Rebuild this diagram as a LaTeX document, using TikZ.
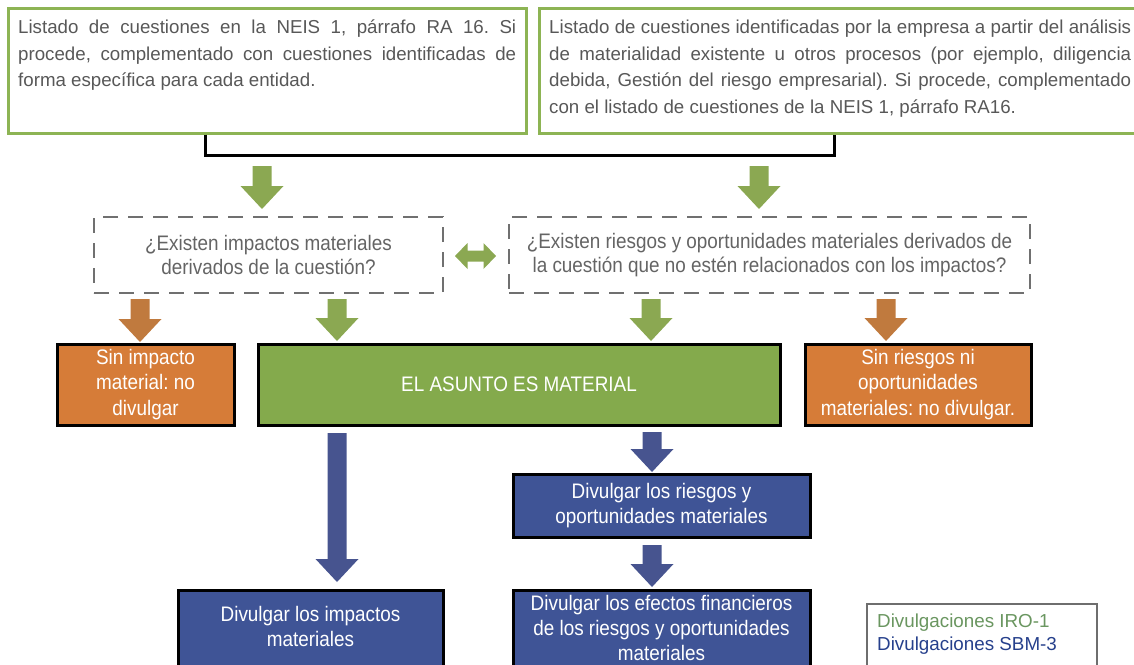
\documentclass[tikz,border=0pt]{standalone}
\usepackage{fontspec}
\setmainfont{Liberation Sans}
\newfontfamily\cnd[FakeStretch=0.9]{Liberation Sans}
\usetikzlibrary{calc}
\definecolor{gbord}{RGB}{141,180,84}
\definecolor{garrow}{RGB}{139,168,82}
\definecolor{gfill}{RGB}{132,170,76}
\definecolor{ofill}{RGB}{214,124,56}
\definecolor{oarrow}{RGB}{192,122,62}
\definecolor{bfill}{RGB}{63,84,150}
\definecolor{barrow}{RGB}{71,84,143}
\definecolor{dgray}{RGB}{112,112,112}
\definecolor{tgray}{RGB}{88,88,88}
\definecolor{dtext}{RGB}{100,100,100}
\definecolor{lgray}{RGB}{110,110,110}
\definecolor{lgreen}{RGB}{106,150,96}
\definecolor{lblue}{RGB}{38,64,140}
\frenchspacing
\newcommand\blockarrow[3]{%
  \fill[#1] let \p1=(#2), \p2=(#3) in
    (\x1-9.5pt,\y1) -- (\x1+9.5pt,\y1) -- (\x1+9.5pt,\y2+23pt) -- (\x1+21.5pt,\y2+23pt)
    -- (\x1,\y2) -- (\x1-21.5pt,\y2+23pt) -- (\x1-9.5pt,\y2+23pt) -- cycle;}
\begin{document}
\begin{tikzpicture}[x=1pt,y=-1pt,
  topbox/.style={draw=gbord, line width=3pt, inner sep=0pt, fill=white},
  toptext/.style={anchor=north west, inner sep=0pt, align=justify, text=tgray,
    font=\fontsize{18.7}{26.5}\selectfont},
  dbox/.style={draw=dgray, line width=2.5pt, dash pattern=on 15pt off 10pt,
    inner sep=0pt, align=center, text=dtext, font=\cnd\fontsize{21}{23.5}\selectfont},
  flowbox/.style={draw=black, line width=3pt, inner sep=0pt, align=center,
    text=white, font=\cnd\fontsize{21}{25.5}\selectfont},
  flowtext/.style={inner sep=0pt, align=center, text=white,
    font=\cnd\fontsize{21}{25}\selectfont},
  bracket/.style={draw=black, line width=3pt},
  legendbox/.style={draw=lgray, line width=2.5pt, fill=white}
]
\useasboundingbox (0,0) rectangle (1134,664);
\clip (0,0) rectangle (1134,664);

% top boxes
\node[topbox, minimum width=518pt, minimum height=125pt] (tl) at (267,70.5) {};
\node[topbox, minimum width=611pt, minimum height=125pt] (tr) at (844.5,70.5) {};
\node[toptext, text width=498pt] (tlt) at (18,20) {Listado de cuestiones en la NEIS 1, párrafo RA 16. Si\linebreak procede, complementado con cuestiones identificadas de\linebreak forma específica para cada entidad.};
\node[toptext, text width=582pt] (trt) at (549,20) {Listado de cuestiones identificadas por la empresa a partir del análisis\linebreak de materialidad existente u otros procesos (por ejemplo, diligencia\linebreak debida, Gestión del riesgo empresarial). Si procede, complementado\linebreak con el listado de cuestiones de la NEIS 1, párrafo RA16.};

% bracket
\coordinate (brl) at (205,155);
\coordinate (brr) at (834,155);
\draw[bracket] (tl.south -| brl) -- (brl) -- (brr) -- (tr.south -| brr);

% dashed question boxes
\node[dbox, minimum width=349pt, minimum height=76pt] (q1) at (268.5,255) {¿Existen impactos materiales\\derivados de la cuestión?};
\node[dbox, minimum width=521pt, minimum height=76pt] (q2) at (769.5,255) {¿Existen riesgos y oportunidades materiales derivados de\\la cuestión que no estén relacionados con los impactos?};

% flow boxes
\node[flowbox, fill=ofill, minimum width=177pt, minimum height=81pt] (o1) at (145.5,384.5) {Sin impacto\\material: no\\divulgar};
\node[flowbox, fill=gfill, minimum width=522pt, minimum height=81pt] (mat) at (519,384.5) {EL ASUNTO ES MATERIAL};
\node[flowbox, fill=ofill, minimum width=226pt, minimum height=81pt] (o2) at (918,384.5) {Sin riesgos ni\\oportunidades\\materiales: no divulgar.};
\node[flowbox, fill=bfill, minimum width=297pt, minimum height=63pt] (b1) at (661.5,505.5) {Divulgar los riesgos y\\oportunidades materiales};

% bottom boxes (cut by page edge)
\draw[flowbox, fill=bfill] (178,590) rectangle (443,700);
\draw[flowbox, fill=bfill] (513,590) rectangle (810,700);
\node[flowtext, minimum width=265pt, minimum height=72pt] (bi) at (310.5,626) {Divulgar los impactos\\materiales};
\node[flowtext, minimum width=297pt, minimum height=76pt] (bf) at (661.5,628) {Divulgar los efectos financieros\\de los riesgos y oportunidades\\materiales};

% legend
\draw[legendbox] (867,604) rectangle (1097,700);
\node[anchor=west, inner sep=0pt, align=left, font=\fontsize{18.8}{22.5}\selectfont] (leg) at (877,634)
  {\textcolor{lgreen}{Divulgaciones IRO-1}\\\textcolor{lblue}{Divulgaciones SBM-3}};

% arrow end points
\coordinate (a1s) at (262,166);  \coordinate (a1e) at (262,209);
\coordinate (a2s) at (759,166);  \coordinate (a2e) at (759,209);
\coordinate (a3s) at (140,299);  \coordinate (a3e) at (140,342);
\coordinate (a4s) at (337,299);  \coordinate (a4e) at (337,341);
\coordinate (a5s) at (651,299);  \coordinate (a5e) at (651,341);
\coordinate (a6s) at (886,299);  \coordinate (a6e) at (886,341);
\coordinate (a7s) at (337,433);  \coordinate (a7e) at (337,582);
\coordinate (a8s) at (652,432);  \coordinate (a8e) at (652,472);
\coordinate (a9s) at (652,545);  \coordinate (a9e) at (652,587);

\blockarrow{garrow}{a1s}{a1e}
\blockarrow{garrow}{a2s}{a2e}
\blockarrow{oarrow}{a3s}{a3e}
\blockarrow{garrow}{a4s}{a4e}
\blockarrow{garrow}{a5s}{a5e}
\blockarrow{oarrow}{a6s}{a6e}
\blockarrow{barrow}{a7s}{a7e}
\blockarrow{barrow}{a8s}{a8e}
\blockarrow{barrow}{a9s}{a9e}

% double arrow between questions
\coordinate (dl) at (455,256);
\coordinate (dr) at (496,256);
\fill[garrow] let \p1=(dl), \p2=(dr) in
  (\x1,\y1) -- (\x1+12.5pt,\y1+13pt) -- (\x1+12.5pt,\y1+5.5pt) -- (\x2-12.5pt,\y1+5.5pt)
  -- (\x2-12.5pt,\y1+13pt) -- (\x2,\y1) -- (\x2-12.5pt,\y1-13pt) -- (\x2-12.5pt,\y1-5.5pt)
  -- (\x1+12.5pt,\y1-5.5pt) -- (\x1+12.5pt,\y1-13pt) -- cycle;
\end{tikzpicture}
\end{document}
